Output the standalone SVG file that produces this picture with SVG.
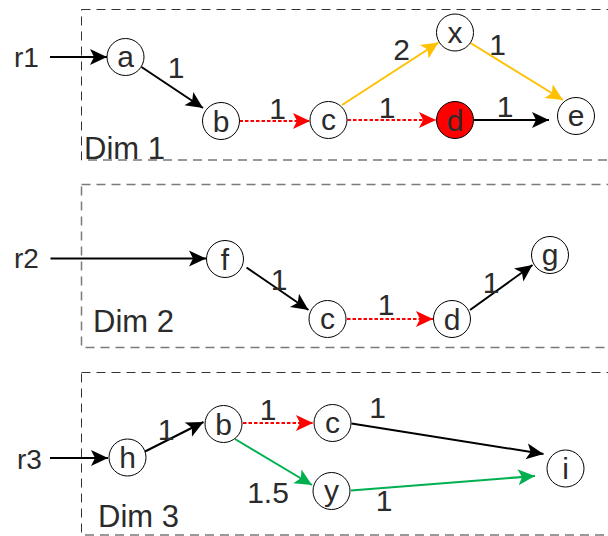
<svg xmlns="http://www.w3.org/2000/svg" width="608" height="536" viewBox="0 0 608 536">
  <defs>
    <style>
      text { font-family: "Liberation Sans", Arial, sans-serif; fill: #2b2b2b; }
      .node circle { fill: #ffffff; stroke: #000000; stroke-width: 1; }
      .node text { font-size: 30px; text-anchor: middle; }
      .dim { fill: none; stroke: #333333; stroke-width: 1; stroke-dasharray: 9 6; }
      .dim.grey { stroke: #7a7a7a; stroke-width: 1.5; }
      .dimlabel { font-size: 31px; }
      .src { font-size: 28px; }
      .w { font-size: 30px; text-anchor: middle; }
      .e { fill: none; stroke-width: 2; }
      .blk { stroke: #000000; marker-end: url(#ah-black); }
      .red { stroke: #ff0000; stroke-dasharray: 3.5 2; marker-end: url(#ah-red); }
      .ylw { stroke: #ffc000; marker-end: url(#ah-yellow); }
      .grn { stroke: #00b050; marker-end: url(#ah-green); }
    </style>
    <marker id="ah-black" markerUnits="userSpaceOnUse" markerWidth="20" markerHeight="20" viewBox="0 -10 20 20" refX="17" refY="0" orient="auto">
      <path d="M0,-8 L17,0 L0,8 L4,0 Z" fill="#000000"/>
    </marker>
    <marker id="ah-red" markerUnits="userSpaceOnUse" markerWidth="20" markerHeight="20" viewBox="0 -10 20 20" refX="17" refY="0" orient="auto">
      <path d="M0,-8 L17,0 L0,8 L4,0 Z" fill="#ff0000"/>
    </marker>
    <marker id="ah-yellow" markerUnits="userSpaceOnUse" markerWidth="20" markerHeight="20" viewBox="0 -10 20 20" refX="17" refY="0" orient="auto">
      <path d="M0,-8 L17,0 L0,8 L4,0 Z" fill="#ffc000"/>
    </marker>
    <marker id="ah-green" markerUnits="userSpaceOnUse" markerWidth="20" markerHeight="20" viewBox="0 -10 20 20" refX="17" refY="0" orient="auto">
      <path d="M0,-8 L17,0 L0,8 L4,0 Z" fill="#00b050"/>
    </marker>
  </defs>

  <rect width="608" height="536" fill="#ffffff"/>

  <!-- dimension frames -->
  <g id="frames">
    <rect class="dim" x="81.5" y="9.5" width="540" height="150.5"/>
    <rect class="dim grey" x="81.5" y="184.5" width="540" height="163"/>
    <rect class="dim" x="81.5" y="372.5" width="540" height="162.5"/>
    <text class="dimlabel" x="84" y="159">Dim 1</text>
    <text class="dimlabel" x="93" y="332">Dim 2</text>
    <text class="dimlabel" x="98" y="527">Dim 3</text>
    <text class="src" x="14" y="67">r1</text>
    <text class="src" x="14" y="268">r2</text>
    <text class="src" x="17" y="469">r3</text>
  </g>

  <!-- connectors -->
  <g id="connectors">
    <line class="e blk" x1="50" y1="57" x2="107" y2="57"/>
    <line class="e blk" x1="141.5" y1="67" x2="203" y2="108"/>
    <line class="e red" x1="239.5" y1="121" x2="310" y2="121"/>
    <line class="e red" x1="347.5" y1="120" x2="436" y2="120"/>
    <line class="e ylw" x1="342" y1="105" x2="438.5" y2="42.5"/>
    <line class="e ylw" x1="470.5" y1="43" x2="563" y2="100"/>
    <line class="e blk" x1="474" y1="120" x2="549" y2="120"/>

    <line class="e blk" x1="50.5" y1="258.5" x2="206" y2="258.5"/>
    <line class="e blk" x1="246.5" y1="267.5" x2="308.5" y2="310"/>
    <line class="e red" x1="347" y1="319" x2="433" y2="319"/>
    <line class="e blk" x1="470" y1="310" x2="532.5" y2="265"/>

    <line class="e blk" x1="50" y1="458" x2="108" y2="458"/>
    <line class="e blk" x1="145" y1="451.5" x2="203.5" y2="422"/>
    <line class="e red" x1="243" y1="423" x2="313" y2="423"/>
    <line class="e blk" x1="351.5" y1="423.5" x2="543.5" y2="454"/>
    <line class="e grn" x1="235" y1="439" x2="312" y2="485"/>
    <line class="e grn" x1="351" y1="490.5" x2="535" y2="476"/>

    <!-- weights -->
    <text class="w" x="176" y="78">1</text>
    <text class="w" x="277.5" y="119">1</text>
    <text class="w" x="387" y="118">1</text>
    <text class="w" x="401.5" y="60">2</text>
    <text class="w" x="497.5" y="55">1</text>
    <text class="w" x="505" y="117">1</text>

    <text class="w" x="279" y="290">1</text>
    <text class="w" x="386" y="315">1</text>
    <text class="w" x="491" y="293">1</text>

    <text class="w" x="166" y="440">1</text>
    <text class="w" x="268" y="420">1</text>
    <text class="w" x="377.5" y="418">1</text>
    <text class="w" x="268" y="503">1.5</text>
    <text class="w" x="384" y="511">1</text>
  </g>

  <!-- Dim 1 nodes -->
  <g id="n1-a" class="node"><circle cx="125.5" cy="57" r="18.5"/><text x="125.5" y="66.5">a</text></g>
  <g id="n1-b" class="node"><circle cx="221" cy="121" r="18.5"/><text x="221" y="131.5">b</text></g>
  <g id="n1-c" class="node"><circle cx="328.5" cy="120" r="18.5"/><text x="328.5" y="129.5">c</text></g>
  <g id="n1-x" class="node"><circle cx="455" cy="32.5" r="18.5"/><text x="455" y="42.5">x</text></g>
  <g id="n1-d" class="node"><circle cx="455" cy="120" r="18.5" style="fill:#ff0000"/><text x="455" y="130.5">d</text></g>
  <g id="n1-e" class="node"><circle cx="576" cy="116" r="18.5"/><text x="576" y="125.5">e</text></g>

  <!-- Dim 2 nodes -->
  <g id="n2-f" class="node"><circle cx="225" cy="259" r="18.5"/><text x="225" y="269.5">f</text></g>
  <g id="n2-c" class="node"><circle cx="327.5" cy="319" r="18.5"/><text x="327.5" y="328.5">c</text></g>
  <g id="n2-d" class="node"><circle cx="452" cy="319" r="18.5"/><text x="452" y="329.5">d</text></g>
  <g id="n2-g" class="node"><circle cx="550" cy="255" r="18.5"/><text x="550" y="264.5">g</text></g>

  <!-- Dim 3 nodes -->
  <g id="n3-h" class="node"><circle cx="127.5" cy="457.5" r="18.5"/><text x="127.5" y="468">h</text></g>
  <g id="n3-b" class="node"><circle cx="223.5" cy="424" r="18.5"/><text x="223.5" y="434.5">b</text></g>
  <g id="n3-c" class="node"><circle cx="332.5" cy="423" r="18.5"/><text x="332.5" y="432.5">c</text></g>
  <g id="n3-y" class="node"><circle cx="331.5" cy="491" r="18.5"/><text x="331.5" y="500.5">y</text></g>
  <g id="n3-i" class="node"><circle cx="565.5" cy="468.5" r="18.5"/><text x="565.5" y="479">i</text></g>
</svg>
